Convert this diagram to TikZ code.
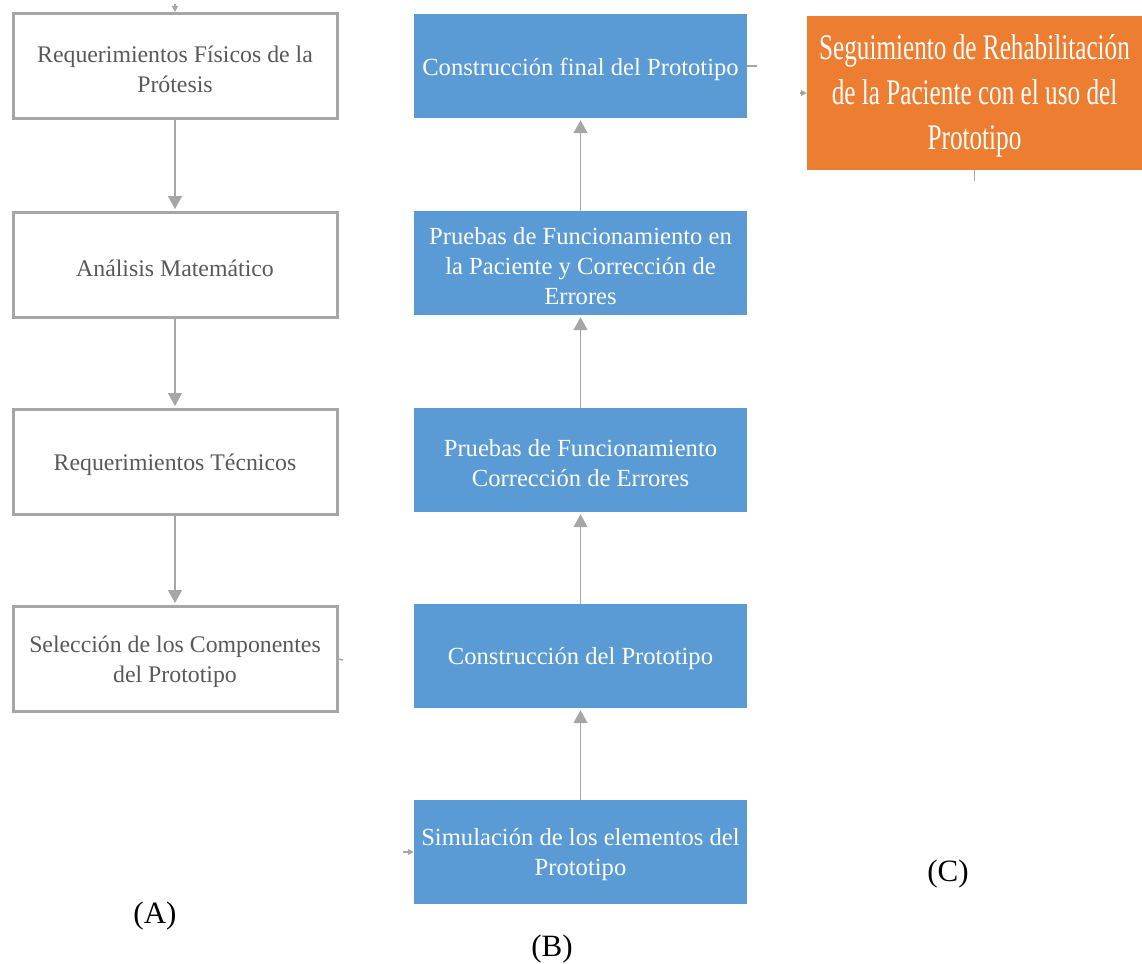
\documentclass[tikz,border=0pt]{standalone}
\usepackage{fontspec}
\setmainfont{Liberation Serif}
\newfontfamily\condfont[FakeStretch=0.7]{Liberation Serif}
\usetikzlibrary{arrows.meta}
\definecolor{bfill}{HTML}{5B9BD5}
\definecolor{ofill}{HTML}{ED7D31}
\definecolor{gline}{HTML}{A6A6A6}
\definecolor{gtext}{HTML}{595959}
\tikzset{
  lbox/.style={draw=gline, line width=3pt, fill=white, minimum width=324pt, minimum height=105pt, inner sep=0pt},
  bbox/.style={fill=bfill, minimum width=333pt, minimum height=104pt, inner sep=0pt},
  obox/.style={fill=ofill, minimum width=335pt, minimum height=154pt, inner sep=0pt},
  ltext/.style={align=center, text=gtext, font=\fontsize{23.8}{30}\selectfont, inner sep=0pt, yshift=-3pt},
  btext/.style={align=center, text=white, font=\fontsize{24.6}{30}\selectfont, inner sep=0pt, yshift=-3pt},
  otext/.style={align=center, text=white, font=\condfont\fontsize{36}{45}\selectfont, inner sep=0pt, yshift=-3pt},
  conn/.style={draw=gline, line width=1.5pt, shorten >=2pt, -{Triangle[length=13pt,width=14pt]}},
  stub/.style={draw=gline, line width=1.5pt},
  tinyhead/.style={draw=gline, line width=1.2pt, -{Triangle[length=6pt,width=6pt]}},
  lab/.style={font=\fontsize{31}{36}\selectfont, text=black}
}
\begin{document}
\begin{tikzpicture}[x=1pt,y=-1pt]
\useasboundingbox (0,0) rectangle (1142,963);
% (A)
\node[lbox, label={[ltext]center:{Requerimientos Físicos de la\\Prótesis}}] (a1) at (175,66) {};
\node[lbox, label={[ltext]center:{Análisis Matemático}}] (a2) at (175,265) {};
\node[lbox, label={[ltext]center:{Requerimientos Técnicos}}] (a3) at (175,462) {};
\node[lbox, label={[ltext]center:{Selección de los Componentes\\del Prototipo}}] (a4) at (175,659) {};
\draw[conn] (a1.south) -- (a2.north);
\draw[conn] (a2.south) -- (a3.north);
\draw[conn] (a3.south) -- (a4.north);
\coordinate (atop) at (175,4);
\draw[tinyhead] (atop) -- (a1.north);
\coordinate (astub) at (343,660);
\draw[stub] (a4.east) -- (astub);
% (B)
\node[bbox, label={[btext]center:{Construcción final del Prototipo}}] (b1) at (580.5,66) {};
\node[bbox, label={[btext]center:{Pruebas de Funcionamiento en\\la Paciente y Corrección de\\Errores}}] (b2) at (580.5,263) {};
\node[bbox, label={[btext]center:{Pruebas de Funcionamiento\\Corrección de Errores}}] (b3) at (580.5,460) {};
\node[bbox, label={[btext]center:{Construcción del Prototipo}}] (b4) at (580.5,656) {};
\node[bbox, label={[btext]center:{Simulación de los elementos del\\Prototipo}}] (b5) at (580.5,852) {};
\draw[conn] (b5.north) -- (b4.south);
\draw[conn] (b4.north) -- (b3.south);
\draw[conn] (b3.north) -- (b2.south);
\draw[conn] (b2.north) -- (b1.south);
\coordinate (bin) at (403,852);
\draw[tinyhead] (bin) -- (b5.west);
\coordinate (bstub) at (757,66);
\draw[stub] (b1.east) -- (bstub);
% (C)
\node[obox, label={[otext]center:{Seguimiento de Rehabilitación\\de la Paciente con el uso del\\Prototipo}}] (c1) at (974.5,93) {};
\coordinate (cin) at (800,93);
\draw[tinyhead] (cin) -- (c1.west);
\coordinate (cstub) at (974.5,181);
\draw[stub] (c1.south) -- (cstub);
% labels
\node[lab] (la) at (155,916) {(A)};
\node[lab] (lb) at (552,949) {(B)};
\node[lab] (lc) at (948,874) {(C)};
\end{tikzpicture}
\end{document}
